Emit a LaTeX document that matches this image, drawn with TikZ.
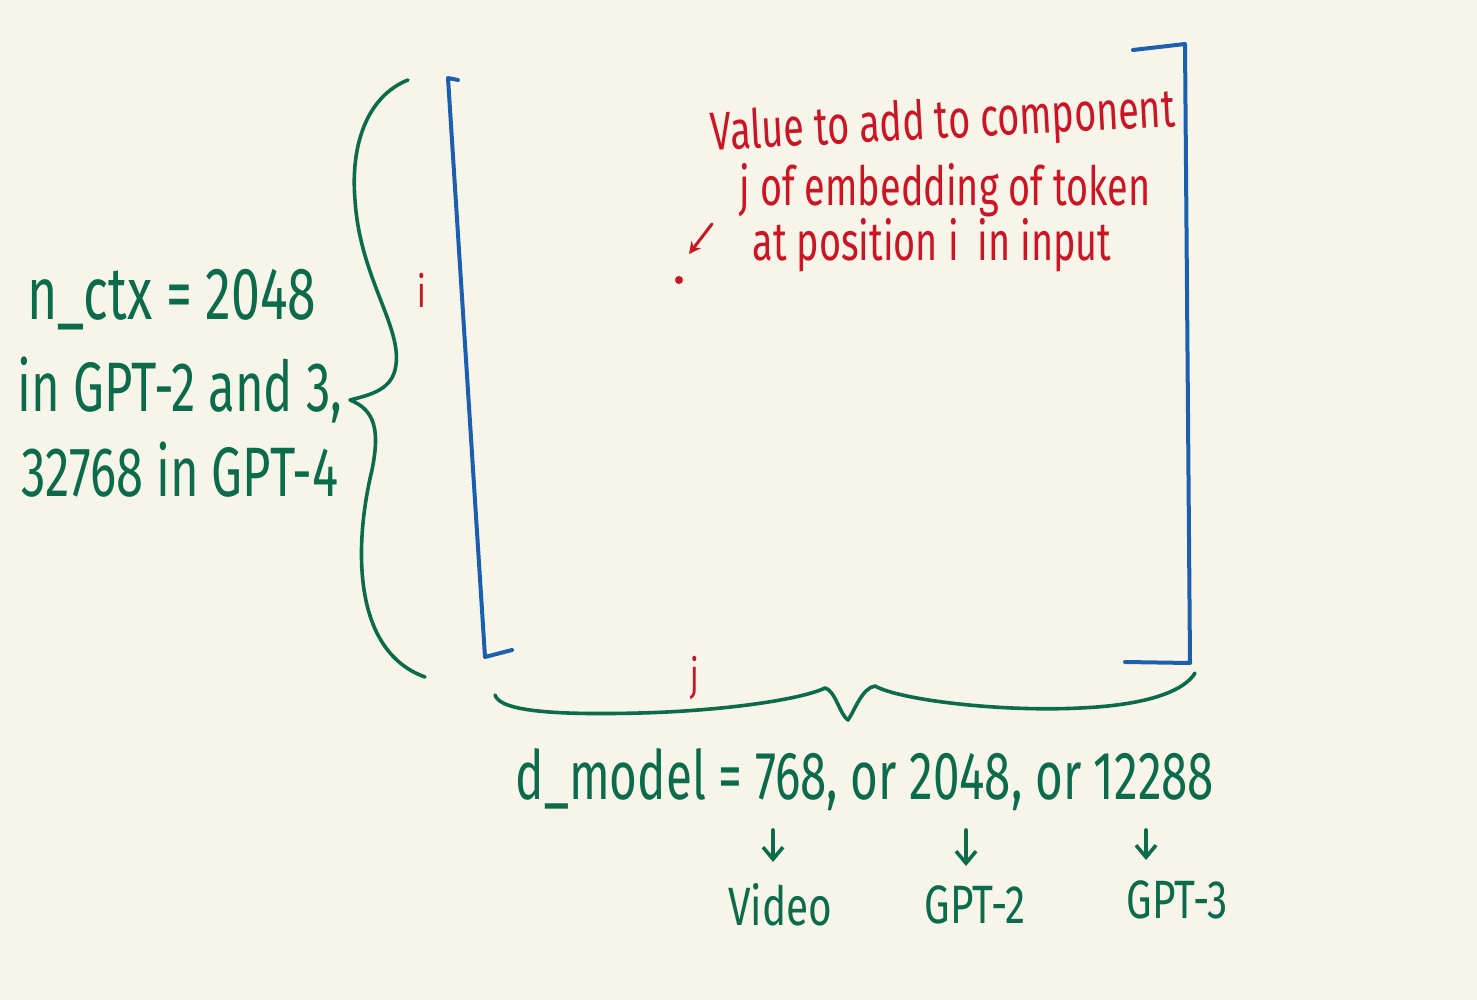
\documentclass[tikz,border=0pt]{standalone}
\usetikzlibrary{arrows.meta}
\usepackage{fontspec}
\newfontfamily\hand[FakeStretch=0.7]{Fira Sans}
\newfontfamily\handw[FakeStretch=0.75]{Fira Sans}
\definecolor{bgc}{HTML}{F7F5E9}
\definecolor{grn}{HTML}{0C6B4B}
\definecolor{blu}{HTML}{1D5FAF}
\definecolor{rd}{HTML}{CC1424}
\begin{document}
\begin{tikzpicture}[x=1pt,y=-1pt,
  bluepen/.style={draw=blu,line width=4pt,line cap=round,line join=round},
  greenpen/.style={draw=grn,line width=3.6pt,line cap=round,line join=round},
  redpen/.style={draw=rd,line width=3pt,line cap=round,line join=round},
  gtext/.style={text=grn,font=\hand\fontsize{74}{76}\selectfont,inner sep=0pt},
  gtextb/.style={text=grn,font=\hand\fontsize{70}{72}\selectfont,inner sep=0pt},
  btext/.style={text=grn,font=\hand\fontsize{68}{70}\selectfont,inner sep=0pt},
  rtext/.style={text=rd,font=\hand\fontsize{54}{56}\selectfont,inner sep=0pt},
  ltext/.style={text=rd,font=\hand\fontsize{44}{46}\selectfont,inner sep=0pt},
  small/.style={text=grn,font=\handw\fontsize{54}{56}\selectfont,inner sep=0pt}]
\fill[bgc] (0,0) rectangle (1477,1000);
\useasboundingbox (0,0) rectangle (1477,1000);
% blue brackets
\draw[bluepen] (458,80) -- (448,78) -- (485,657) -- (512,650);
\draw[bluepen] (1133,50) -- (1185,44) -- (1190,663) -- (1125,662);
% left brace
\draw[greenpen] (408,80) .. controls (370,95) and (350,140) .. (355,200)
  .. controls (360,280) and (405,330) .. (395,370)
  .. controls (390,390) and (370,395) .. (350,400)
  .. controls (375,410) and (380,430) .. (372,470)
  .. controls (355,540) and (350,650) .. (425,677);
% bottom brace
\draw[greenpen] (495,695) .. controls (500,712) and (560,715) .. (640,713)
  .. controls (720,711) and (800,700) .. (825,688)
  .. controls (835,690) and (840,715) .. (848,720)
  .. controls (855,710) and (862,688) .. (875,686)
  .. controls (900,700) and (1000,712) .. (1080,708)
  .. controls (1150,705) and (1185,690) .. (1195,673);
% red labels
\node[ltext] (i) at (422,290) {i};
\node[ltext] (j) at (695,678) {j};
\node[rtext,rotate=3] (l1) at (943,124) {Value to add to component};
\node[rtext] (l2) at (945,190) {j of embedding of token};
\node[rtext] (l3) at (932,245) {at position i\, in input};
\fill[rd] (679,280) circle (4pt) coordinate (dot);
\coordinate (as) at (712,224);
\coordinate (ae) at (689,254);
\draw[redpen,-{Stealth[length=12pt,width=12pt]}] (as) -- (ae);
% left text
\node[gtext] (t1) at (172,300) {n\_ctx = 2048};
\node[gtextb] (t2) at (180,390) {in GPT-2 and 3,};
\node[gtextb] (t3) at (180,470) {32768 in GPT-4};
% bottom text
\node[btext] (dm) at (865,780) {d\_model = 768, or 2048, or 12288};
\node[small] (v) at (780,905) {Video};
\node[small] (g2) at (975,905) {GPT-2};
\node[small] (g3) at (1177,900) {GPT-3};
\coordinate (a1) at (773,830); \coordinate (b1) at (773,862);
\coordinate (a2) at (966,830); \coordinate (b2) at (966,866);
\coordinate (a3) at (1146,830); \coordinate (b3) at (1146,860);
\foreach \p in {1,2,3}
  \draw[greenpen,-{Straight Barb[length=12pt,width=20pt]}] (a\p) -- (b\p);
\end{tikzpicture}
\end{document}
